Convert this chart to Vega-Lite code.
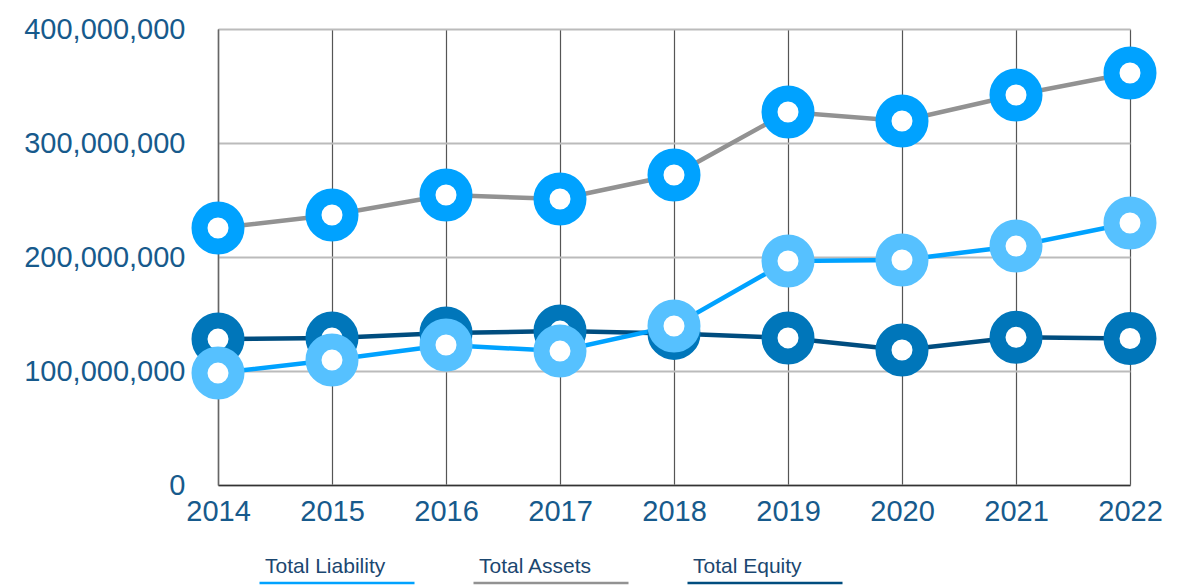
{
  "$schema": "https://vega.github.io/schema/vega-lite/v6.json",
  "width": 912,
  "height": 456,
  "autosize": {"type": "none"},
  "padding": {"left": 218, "top": 29, "right": 62, "bottom": 101},
  "background": "white",
  "config": {
    "view": {"stroke": null},
    "font": "Liberation Sans"
  },
  "data": {
    "values": [
      {"year": 2014, "series": "Total Equity", "value": 128000000},
      {"year": 2015, "series": "Total Equity", "value": 129000000},
      {"year": 2016, "series": "Total Equity", "value": 133300000},
      {"year": 2017, "series": "Total Equity", "value": 135000000},
      {"year": 2018, "series": "Total Equity", "value": 133000000},
      {"year": 2019, "series": "Total Equity", "value": 129000000},
      {"year": 2020, "series": "Total Equity", "value": 118400000},
      {"year": 2021, "series": "Total Equity", "value": 129500000},
      {"year": 2022, "series": "Total Equity", "value": 128500000},
      {"year": 2014, "series": "Total Assets", "value": 225400000},
      {"year": 2015, "series": "Total Assets", "value": 236800000},
      {"year": 2016, "series": "Total Assets", "value": 254400000},
      {"year": 2017, "series": "Total Assets", "value": 250900000},
      {"year": 2018, "series": "Total Assets", "value": 271900000},
      {"year": 2019, "series": "Total Assets", "value": 327200000},
      {"year": 2020, "series": "Total Assets", "value": 319300000},
      {"year": 2021, "series": "Total Assets", "value": 342100000},
      {"year": 2022, "series": "Total Assets", "value": 361400000},
      {"year": 2014, "series": "Total Liability", "value": 98200000},
      {"year": 2015, "series": "Total Liability", "value": 109600000},
      {"year": 2016, "series": "Total Liability", "value": 122800000},
      {"year": 2017, "series": "Total Liability", "value": 117500000},
      {"year": 2018, "series": "Total Liability", "value": 139500000},
      {"year": 2019, "series": "Total Liability", "value": 196500000},
      {"year": 2020, "series": "Total Liability", "value": 197400000},
      {"year": 2021, "series": "Total Liability", "value": 209600000},
      {"year": 2022, "series": "Total Liability", "value": 229800000}
    ]
  },
  "encoding": {
    "x": {
      "field": "year",
      "type": "quantitative",
      "scale": {"domain": [2014, 2022], "nice": false, "zero": false},
      "axis": {
        "title": null,
        "values": [2014, 2015, 2016, 2017, 2018, 2019, 2020, 2021, 2022],
        "format": "d",
        "labelFontSize": 29,
        "labelColor": "#175a8c",
        "labelPadding": 12,
        "ticks": false,
        "domain": true,
        "domainColor": "#333333",
        "domainWidth": 1.5,
        "grid": true,
        "gridColor": "#555555",
        "gridWidth": 1.2,
        "labelFlush": false,
        "labelOverlap": false
      }
    },
    "y": {
      "field": "value",
      "type": "quantitative",
      "scale": {"domain": [0, 400000000], "nice": false},
      "axis": {
        "title": null,
        "values": [0, 100000000, 200000000, 300000000, 400000000],
        "format": ",d",
        "labelFontSize": 29,
        "labelColor": "#175a8c",
        "labelPadding": 33,
        "ticks": false,
        "domain": true,
        "domainColor": "#666666",
        "domainWidth": 1.5,
        "grid": true,
        "gridColor": "#bbbbbb",
        "gridWidth": 2,
        "labelFlush": false,
        "labelOverlap": false
      }
    }
  },
  "layer": [
    {
      "mark": {"type": "line", "strokeWidth": 4.5},
      "encoding": {
        "color": {
          "field": "series",
          "type": "nominal",
          "scale": {
            "domain": ["Total Liability", "Total Assets", "Total Equity"],
            "range": ["#00a2ff", "#929292", "#004d7f"]
          },
          "legend": {
            "title": null,
            "orient": "none",
            "direction": "horizontal",
            "legendX": 40,
            "legendY": 526,
            "symbolType": "M -1 1.65 L 14.5 1.65",
            "symbolSize": 400,
            "symbolStrokeWidth": 2.5,
            "labelOffset": -16,
            "labelFontSize": 21,
            "labelColor": "#1b4770",
            "columnPadding": 48,
            "symbolOffset": 0
          }
        }
      }
    },
    {
      "mark": {"type": "point", "shape": "circle", "filled": false, "fill": "white", "fillOpacity": 1, "strokeWidth": 16, "size": 1369, "opacity": 1},
      "encoding": {
        "stroke": {
          "field": "series",
          "type": "nominal",
          "scale": {
            "domain": ["Total Liability", "Total Assets", "Total Equity"],
            "range": ["#56c1ff", "#00a2ff", "#0076ba"]
          },
          "legend": null
        }
      }
    }
  ]
}
